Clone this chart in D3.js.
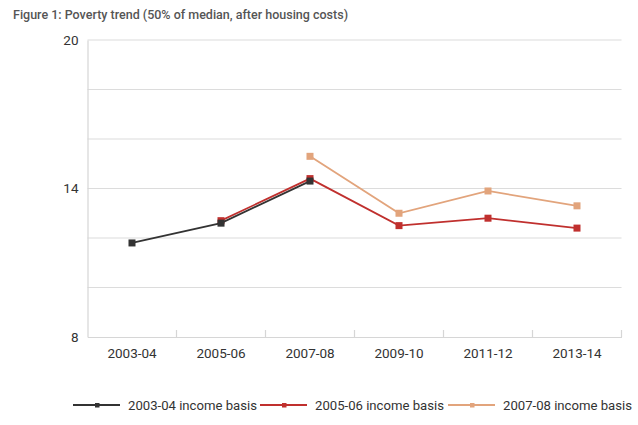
<!DOCTYPE html>
<html><head><meta charset="utf-8">
<script src="https://cdn.jsdelivr.net/npm/d3@7"></script>
<style>body{margin:0;background:#fff;} svg{display:block;font-family:Roboto,"DejaVu Sans",sans-serif;}</style>
</head><body>
<svg id="c" width="638" height="425"></svg>
<script>
const categories = ["2003-04","2005-06","2007-08","2009-10","2011-12","2013-14"];
const series2003 = [11.8, 12.6, 14.3, null, null, null];
const series2005 = [null, 12.7, 14.4, 12.5, 12.8, 12.4];
const series2007 = [null, null, 15.3, 13.0, 13.9, 13.3];
const seriesNames = ["2003-04 income basis","2005-06 income basis","2007-08 income basis"];
const seriesColors = ["#333333","#c0302e","#e2a47c"];
const yTicks = [8, 14, 20];
const yGrid = [10, 12, 14, 16, 18, 20];
const title = "Figure 1: Poverty trend (50% of median, after housing costs)";

const svg = d3.select("#c");
const L = 87.5, R = 621.5, T = 40, B = 337;
const x = d3.scaleBand().domain(categories).range([L, R]);
const y = d3.scaleLinear().domain([8, 20]).range([B, T]);

svg.append("text").attr("x", 13).attr("y", 19).attr("fill", "#555").attr("font-size", 12.5).attr("font-weight", 500).text(title);

// gridlines
svg.append("g").selectAll("line").data(yGrid).join("line")
  .attr("x1", L).attr("x2", R).attr("y1", d => y(d)).attr("y2", d => y(d))
  .attr("stroke", "#dcdcdc").attr("stroke-width", 1.2);

// left axis
const yAxis = svg.append("g").attr("transform", `translate(${L},0)`)
  .call(d3.axisLeft(y).tickValues(yTicks).tickSize(0).tickPadding(9));
yAxis.select(".domain").attr("stroke", "#d6d6d6").attr("stroke-width", 1.2);
yAxis.selectAll("text").attr("font-size", 13.5).attr("fill", "#333").attr("font-family", "Roboto");

// bottom axis
const xAxis = svg.append("g").attr("transform", `translate(0,${B})`)
  .call(d3.axisBottom(x).tickSize(0).tickPadding(11));
xAxis.select(".domain").attr("stroke", "#d6d6d6").attr("stroke-width", 1.2);
xAxis.selectAll("text").attr("font-size", 13.5).attr("fill", "#333").attr("font-family", "Roboto");
const bounds = categories.map(c => x(c)).concat([R]);
svg.append("g").selectAll("line").data(bounds.slice(1)).join("line")
  .attr("x1", d => d).attr("x2", d => d).attr("y1", B).attr("y2", B - 7)
  .attr("stroke", "#d6d6d6").attr("stroke-width", 1.2);

const allSeries = [series2003, series2005, series2007];
const cx = c => x(c) + x.bandwidth() / 2;
const line = d3.line().defined(d => d.v != null).x(d => cx(d.c)).y(d => y(d.v));
const order = [2, 1, 0];
order.forEach(i => {
  const data = categories.map((c, j) => ({c, v: allSeries[i][j]}));
  svg.append("path").datum(data).attr("d", line).attr("fill", "none")
    .attr("stroke", seriesColors[i]).attr("stroke-width", 1.8);
  svg.append("g").selectAll("rect").data(data.filter(d => d.v != null)).join("rect")
    .attr("x", d => cx(d.c) - 3.5).attr("y", d => y(d.v) - 3.5)
    .attr("width", 7).attr("height", 7).attr("fill", seriesColors[i]);
});

// legend
const legX = [73, 260, 448];
const lg = svg.append("g");
seriesNames.forEach((n, i) => {
  const g = lg.append("g").attr("transform", `translate(${legX[i]},405)`);
  g.append("line").attr("x1", 0).attr("x2", 47).attr("y1", 0).attr("y2", 0)
    .attr("stroke", seriesColors[i]).attr("stroke-width", 1.8);
  g.append("rect").attr("x", 24 - 2).attr("y", -2).attr("width", 4.5).attr("height", 4.5).attr("fill", seriesColors[i]);
  g.append("text").attr("x", 55).attr("y", 5).attr("font-size", 13.2).attr("fill", "#333")
    .attr("textLength", 129).attr("lengthAdjust", "spacingAndGlyphs").text(n);
});
</script>
</body></html>
